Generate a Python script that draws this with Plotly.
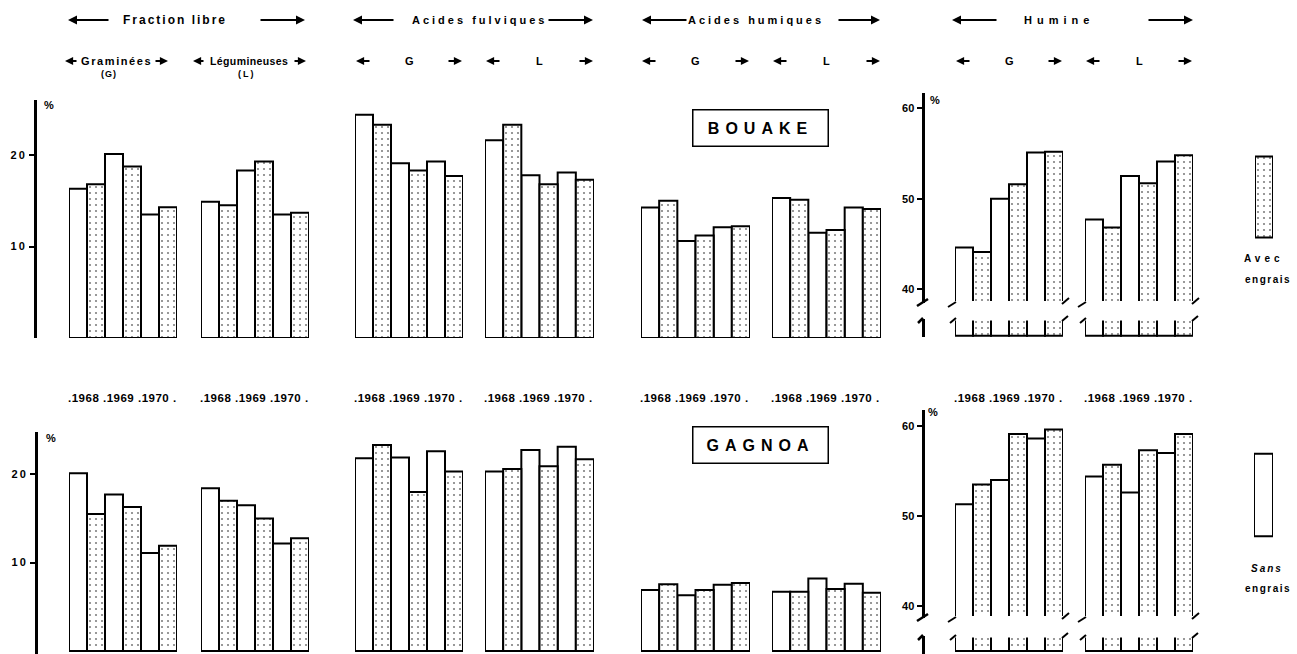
import plotly.graph_objects as go

W, H = 1297, 654
FONT = "Liberation Sans, Arial, sans-serif"

years = ["1968", "1969", "1970"]
treatments = ["Sans engrais", "Avec engrais"]

# ---------------- BOUAKE (top row), % ----------------
bouake_libre_G_sans = [16.3, 20.1, 13.5]
bouake_libre_G_avec = [16.8, 18.75, 14.3]
bouake_libre_L_sans = [14.9, 18.3, 13.5]
bouake_libre_L_avec = [14.5, 19.3, 13.7]
bouake_fulv_G_sans = [24.4, 19.1, 19.3]
bouake_fulv_G_avec = [23.3, 18.3, 17.7]
bouake_fulv_L_sans = [21.6, 17.8, 18.1]
bouake_fulv_L_avec = [23.3, 16.8, 17.3]
bouake_hum_G_sans = [14.25, 10.6, 12.1]
bouake_hum_G_avec = [15.0, 11.2, 12.2]
bouake_hum_L_sans = [15.3, 11.5, 14.25]
bouake_hum_L_avec = [15.1, 11.8, 14.1]
bouake_humine_G_sans = [44.6, 50.0, 55.1]
bouake_humine_G_avec = [44.1, 51.6, 55.2]
bouake_humine_L_sans = [47.7, 52.5, 54.1]
bouake_humine_L_avec = [46.8, 51.7, 54.8]

# ---------------- GAGNOA (bottom row), % ----------------
gagnoa_libre_G_sans = [20.1, 17.7, 11.1]
gagnoa_libre_G_avec = [15.5, 16.3, 11.9]
gagnoa_libre_L_sans = [18.4, 16.5, 12.15]
gagnoa_libre_L_avec = [17.0, 15.0, 12.75]
gagnoa_fulv_G_sans = [21.8, 21.9, 22.6]
gagnoa_fulv_G_avec = [23.3, 18.0, 20.3]
gagnoa_fulv_L_sans = [20.3, 22.75, 23.1]
gagnoa_fulv_L_avec = [20.6, 20.9, 21.7]
gagnoa_hum_G_sans = [6.9, 6.3, 7.5]
gagnoa_hum_G_avec = [7.55, 6.9, 7.7]
gagnoa_hum_L_sans = [6.7, 8.2, 7.6]
gagnoa_hum_L_avec = [6.7, 7.0, 6.6]
gagnoa_humine_G_sans = [51.3, 54.0, 58.6]
gagnoa_humine_G_avec = [53.5, 59.1, 59.6]
gagnoa_humine_L_sans = [54.4, 52.6, 57.0]
gagnoa_humine_L_avec = [55.7, 57.3, 59.1]

series = {
    "top": {
        "libre": {"G": (bouake_libre_G_sans, bouake_libre_G_avec), "L": (bouake_libre_L_sans, bouake_libre_L_avec)},
        "fulv": {"G": (bouake_fulv_G_sans, bouake_fulv_G_avec), "L": (bouake_fulv_L_sans, bouake_fulv_L_avec)},
        "hum": {"G": (bouake_hum_G_sans, bouake_hum_G_avec), "L": (bouake_hum_L_sans, bouake_hum_L_avec)},
        "humine": {"G": (bouake_humine_G_sans, bouake_humine_G_avec), "L": (bouake_humine_L_sans, bouake_humine_L_avec)},
    },
    "bottom": {
        "libre": {"G": (gagnoa_libre_G_sans, gagnoa_libre_G_avec), "L": (gagnoa_libre_L_sans, gagnoa_libre_L_avec)},
        "fulv": {"G": (gagnoa_fulv_G_sans, gagnoa_fulv_G_avec), "L": (gagnoa_fulv_L_sans, gagnoa_fulv_L_avec)},
        "hum": {"G": (gagnoa_hum_G_sans, gagnoa_hum_G_avec), "L": (gagnoa_hum_L_sans, gagnoa_hum_L_avec)},
        "humine": {"G": (gagnoa_humine_G_sans, gagnoa_humine_G_avec), "L": (gagnoa_humine_L_sans, gagnoa_humine_L_avec)},
    },
}

# ---------------- layout geometry (pixels) ----------------
panels = ["libre", "fulv", "hum", "humine"]
GROUP_X = {
    "libre": {"G": (69, 177), "L": (201, 309)},
    "fulv": {"G": (355, 463), "L": (485, 594)},
    "hum": {"G": (641, 750), "L": (772, 881)},
    "humine": {"G": (955, 1063), "L": (1085, 1193)},
}


def px(x):
    return x / W


def py(y):
    return 1 - y / H


OUTLINE = dict(color="black", width=2)
SANS_MARKER = dict(color="white", line=OUTLINE)
AVEC_MARKER = dict(color="white", line=OUTLINE,
                   pattern=dict(shape=".", fgcolor="black", bgcolor="white",
                                size=6, solidity=0.1, fillmode="overlay"))

tickfont = dict(family=FONT, size=11, color="black", weight="bold")


def spaced(s, sp):
    return f"<span style='letter-spacing:{sp}px'>{s}</span>"


layout = dict(
    width=W, height=H, margin=dict(l=0, r=0, t=0, b=0),
    paper_bgcolor="white", plot_bgcolor="rgba(0,0,0,0)",
    barmode="group", bargap=0, bargroupgap=0, showlegend=False,
    font=dict(family=FONT, color="black"),
)

axis_common = dict(showline=True, linewidth=3, linecolor="black", showgrid=False, zeroline=False,
                   ticks="outside", ticklen=5, tickwidth=2, tickcolor="black", tickfont=tickfont,
                   anchor="free", fixedrange=True)

# main % axes
layout["yaxis"] = dict(axis_common, domain=[py(338), py(100)], range=[0, (338 - 100) / 9.15],
                       position=px(35), tickvals=[10, 20], ticktext=[spaced("10", 2), spaced("20", 2)])
layout["yaxis2"] = dict(axis_common, domain=[py(654), py(432)], range=[-(654 - 651) / 8.84, (651 - 432) / 8.84],
                        position=px(36), tickvals=[10, 20], ticktext=[spaced("10", 2), spaced("20", 2)])
# humine axes (broken)
BREAK = {"top": (303, 319), "bottom": (618, 636)}
layout["yaxis3"] = dict(axis_common, domain=[py(303), py(93)],
                        range=[40 - (303 - 289) / 9.035, 40 + (289 - 93) / 9.035],
                        position=px(922.5), tickvals=[40, 50, 60])
layout["yaxis4"] = dict(axis_common, domain=[py(337), py(319)], range=[-0.15, 2],
                        position=px(922.5), ticks="", showticklabels=False)
layout["yaxis5"] = dict(axis_common, domain=[py(618), py(410)],
                        range=[40 - (618 - 606) / 9.0, 40 + (606 - 410) / 9.0],
                        position=px(922.5), tickvals=[40, 50, 60])
layout["yaxis6"] = dict(axis_common, domain=[py(654), py(636)], range=[-0.4, 2],
                        position=px(922.5), ticks="", showticklabels=False)
# legend swatch axes
layout["yaxis7"] = dict(domain=[py(239), py(155)], range=[-0.02, 1.02], visible=False, anchor="x17", fixedrange=True)
layout["yaxis8"] = dict(domain=[py(538), py(452)], range=[-0.02, 1.02], visible=False, anchor="x18", fixedrange=True)

main_y = {"top": "y", "bottom": "y2"}
humine_y = {"top": ("y3", "y4"), "bottom": ("y5", "y6")}

fig = go.Figure()

xi = 0
for row in ["top", "bottom"]:
    for panel in panels:
        for g in ["G", "L"]:
            xi += 1
            xname = "x" if xi == 1 else f"x{xi}"
            key = "xaxis" if xi == 1 else f"xaxis{xi}"
            x0, x1 = GROUP_X[panel][g]
            layout[key] = dict(domain=[px(x0), px(x1)], type="category", categoryorder="array",
                               categoryarray=years, visible=False, anchor=main_y[row], fixedrange=True)
            sans, avec = series[row][panel][g]
            ynames = humine_y[row] if panel == "humine" else (main_y[row],)
            for yname in ynames:
                fig.add_trace(go.Bar(x=years, y=sans, name=treatments[0], marker=SANS_MARKER,
                                     xaxis=xname, yaxis=yname, hoverinfo="skip"))
                fig.add_trace(go.Bar(x=years, y=avec, name=treatments[1], marker=AVEC_MARKER,
                                     xaxis=xname, yaxis=yname, hoverinfo="skip"))

# legend swatches
layout["xaxis17"] = dict(domain=[px(1255), px(1273)], type="category", visible=False, anchor="y7", fixedrange=True)
layout["xaxis18"] = dict(domain=[px(1254), px(1273)], type="category", visible=False, anchor="y8", fixedrange=True)
fig.add_trace(go.Bar(x=[treatments[1]], y=[1], marker=AVEC_MARKER, xaxis="x17", yaxis="y7", hoverinfo="skip"))
fig.add_trace(go.Bar(x=[treatments[0]], y=[1], marker=SANS_MARKER, xaxis="x18", yaxis="y8", hoverinfo="skip"))

annotations = []
shapes = []


def text(x, y, s, size=11, xanchor="center", bold=False, italic=False, sp=None):
    t = spaced(s, sp) if sp else s
    if bold:
        t = f"<b>{t}</b>"
    if italic:
        t = f"<i>{t}</i>"
    annotations.append(dict(x=px(x), y=py(y), xref="paper", yref="paper", text=t, showarrow=False,
                            font=dict(family=FONT, size=size, color="black"),
                            xanchor=xanchor, yanchor="middle"))


def arrow(x_tail, x_head, y, w=1.8, size=1.0):
    annotations.append(dict(x=px(x_head), y=py(y), xref="paper", yref="paper",
                            ax=x_tail - x_head, ay=0, axref="pixel", ayref="pixel",
                            showarrow=True, arrowhead=2, arrowsize=size, arrowwidth=w,
                            arrowcolor="black", text="", standoff=0, startstandoff=0))


def seg(x0, y0, x1, y1, w=2):
    shapes.append(dict(type="line", xref="paper", yref="paper", x0=px(x0), y0=py(y0),
                       x1=px(x1), y1=py(y1), line=dict(color="black", width=w)))


def blank(x0, y0, x1, y1):
    shapes.append(dict(type="rect", xref="paper", yref="paper", x0=px(x0), y0=py(y0),
                       x1=px(x1), y1=py(y1), line=dict(width=0), fillcolor="white", layer="above"))


# header row 1
text(175, 20, "Fraction libre", 12, bold=True, sp=2)
arrow(110, 68, 20)
arrow(259, 305, 20)
text(479, 20, "Acides fulviques", 11, bold=True, sp=3)
arrow(395, 353, 20)
arrow(547, 593, 20)
text(756, 20, "Acides humiques", 11, bold=True, sp=3)
arrow(688, 642, 20)
arrow(837, 880, 20)
text(1059, 20, "Humine", 11, bold=True, sp=5)
arrow(998, 952, 20)
arrow(1147, 1193, 20)

# header row 2
ROW2 = 61
text(116, ROW2, "Graminées", 11, bold=True, sp=1.6)
arrow(78, 65, ROW2, 1.8, 0.9)
arrow(154, 168, ROW2, 1.8, 0.9)
text(109, 74, "(G)", 9, bold=True, sp=1)
text(249, ROW2, "Légumineuses", 10.5, bold=True, sp=0.4)
arrow(205, 193, ROW2, 1.8, 0.9)
arrow(293, 306, ROW2, 1.8, 0.9)
text(247, 74, "(L)", 9, bold=True, sp=2)
for panel in ["fulv", "hum", "humine"]:
    for g in ["G", "L"]:
        x0, x1 = GROUP_X[panel][g]
        arrow(x0 + 16, x0 + 1, ROW2, 1.8, 0.9)
        text((x0 + x1) / 2, ROW2, g, 11, bold=True)
        arrow(x1 - 16, x1 - 1, ROW2, 1.8, 0.9)

# year labels
year_label = " ".join("." + y for y in years) + " ."
for panel in panels:
    for g in ["G", "L"]:
        x0, x1 = GROUP_X[panel][g]
        text(x0 - 3, 398, year_label, 11.5, xanchor="left", bold=True, sp=0.5)

# % labels
text(49, 105, "%", 11, bold=True)
text(935, 100, "%", 11, bold=True)
text(51, 438, "%", 11, bold=True)
text(933, 412, "%", 11, bold=True)

# site boxes
for site, yc in [("BOUAKE", 128), ("GAGNOA", 445)]:
    annotations.append(dict(x=px(761), y=py(yc), xref="paper", yref="paper",
                            text=spaced(site, 6), showarrow=False,
                            font=dict(family=FONT, size=16, color="black", weight="bold"),
                            bordercolor="black", borderwidth=1.5, borderpad=4,
                            width=126, height=27, xanchor="center", yanchor="middle",
                            bgcolor="white"))

# legend texts
text(1242, 258, "Avec", 10, xanchor="left", bold=True, sp=4)
text(1243, 280, "engrais", 10, xanchor="left", bold=True, sp=1.5)
text(1249, 568, "Sans", 10, xanchor="left", bold=True, italic=True, sp=2)
text(1243, 588, "engrais", 10, xanchor="left", bold=True, sp=1.5)

# broken-axis marks for humine panels (open bar ends at the breaks)
for row in ["top", "bottom"]:
    yb, ys = BREAK[row]
    for g in ["G", "L"]:
        x0, x1 = GROUP_X["humine"][g]
        blank(x0 - 2, yb - 2, x1 + 2, yb + 2)
        blank(x0 - 2, ys - 2, x1 + 2, ys + 1.5)
for row in ["top", "bottom"]:
    yb, ys = BREAK[row]
    seg(917, yb + 3, 928, yb - 4, 2.5)
    seg(918, ys + 4, 923, ys - 1, 2.5)
    for g in ["G", "L"]:
        x0, x1 = GROUP_X["humine"][g]
        seg(x0 - 7, yb + 4, x0 + 1, yb - 1)
        seg(x1 - 1, yb + 1, x1 + 6, yb - 5)
        seg(x0 - 5, ys + 4, x0 + 1, ys - 1)
        seg(x1 - 1, ys + 2, x1 + 5, ys - 3)

layout["annotations"] = annotations
layout["shapes"] = shapes
fig.update_layout(**layout)
fig.write_html(
    "out.html",
    config={"displayModeBar": False, "staticPlot": True},
    post_script="document.body.style.margin='0';document.body.style.padding='0';document.body.style.overflow='hidden';",
)
